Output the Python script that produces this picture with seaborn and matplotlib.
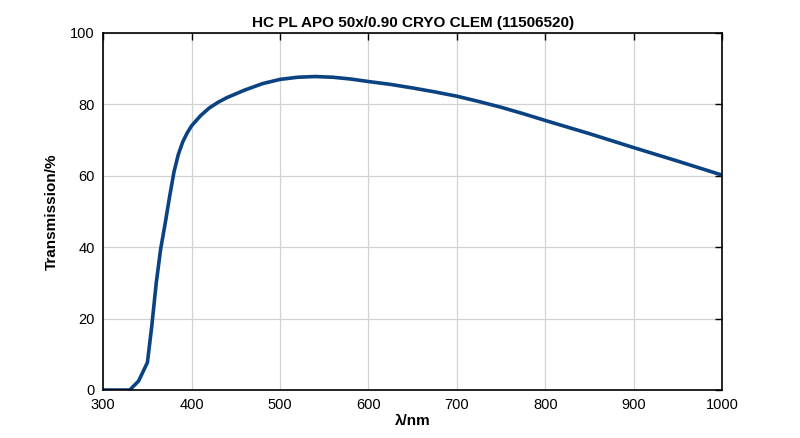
import pandas as pd
import seaborn as sns
import matplotlib.pyplot as plt

# 透过率曲线数据
wavelength = [300, 310, 320, 330, 340, 350, 355, 360, 365, 370, 375, 380, 385, 390, 395,
              400, 410, 420, 430, 440, 460, 480, 500, 520, 540, 560, 580, 600, 625, 650, 675,
              700, 725, 750, 775, 800, 850, 900, 950, 1000]
transmission = [0, 0, 0, 0, 2.5, 7.7, 18, 30, 39.5, 46.5, 54, 61, 66, 69.5, 72,
                74, 76.8, 79, 80.6, 81.9, 84, 85.8, 87.0, 87.6, 87.8, 87.6, 87.1, 86.4, 85.6, 84.6, 83.5,
                82.3, 80.8, 79.2, 77.4, 75.5, 71.8, 67.9, 64.1, 60.2]
x_ticks = [300, 400, 500, 600, 700, 800, 900, 1000]
y_ticks = [0, 20, 40, 60, 80, 100]

df = pd.DataFrame({'wavelength': wavelength, 'transmission': transmission})

sns.set_style('whitegrid')
plt.rcParams['font.family'] = ['Liberation Sans', 'DejaVu Sans']
plt.rcParams['text.color'] = 'black'
plt.rcParams['axes.labelcolor'] = 'black'

fig = plt.figure(figsize=(8, 4.38), dpi=100)
ax = fig.add_axes([0.129, 0.1096, 0.7735, 0.8151])

sns.lineplot(data=df, x='wavelength', y='transmission', color='#0b4382', linewidth=2.6, ax=ax)

ax.set_xlim(300, 1000)
ax.set_ylim(0, 100)
ax.set_xticks(x_ticks)
ax.set_yticks(y_ticks)
ax.grid(True, color='#d2d2d2', linewidth=0.9)
for s in ax.spines.values():
    s.set_visible(True)
    s.set_color('black')
    s.set_linewidth(1.2)
ax.tick_params(direction='in', top=True, right=True, length=5, width=1,
               labelsize=10.5, colors='black', pad=6)

ax.set_title('HC PL APO 50x/0.90 CRYO CLEM (11506520)', fontsize=11, fontweight='bold', pad=4)
ax.set_xlabel('λ/nm', fontsize=11, fontweight='bold', labelpad=1)
ax.set_ylabel('Transmission/%', fontsize=11, fontweight='bold', labelpad=8)

fig.savefig('out.png', dpi=100)
